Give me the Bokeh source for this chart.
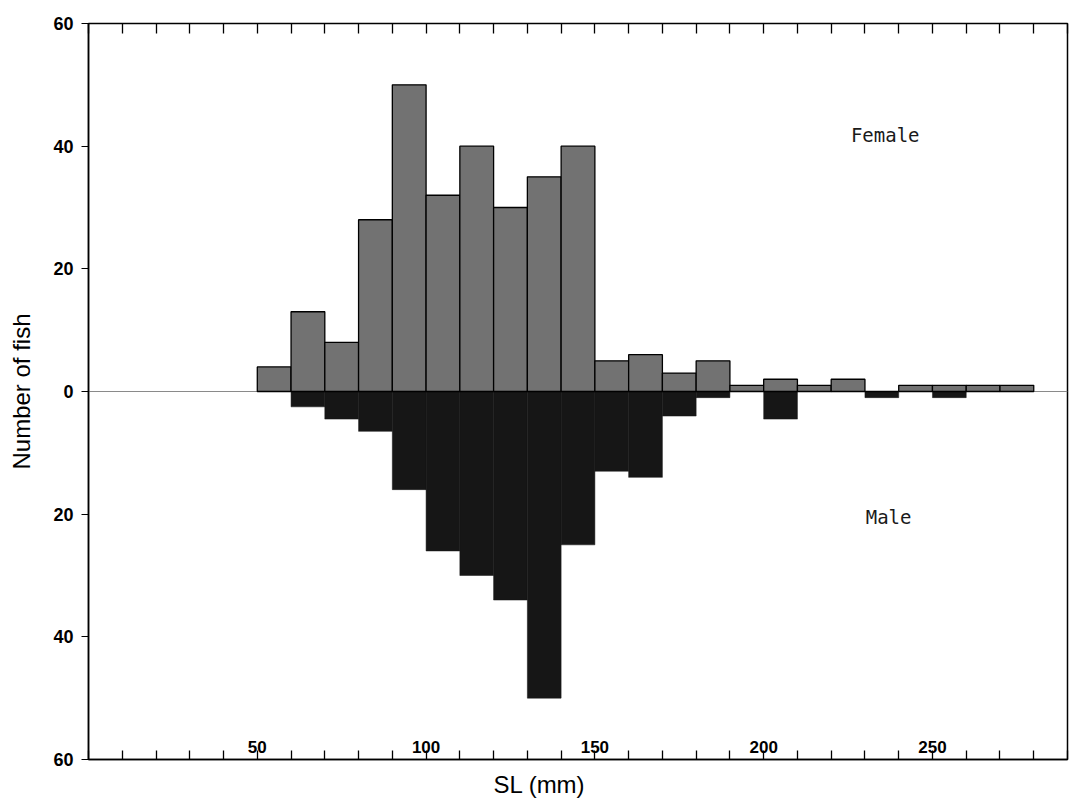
from bokeh.plotting import figure
from bokeh.models import (LinearAxis, SingleIntervalTicker, FixedTicker, Span,
                          ColumnDataSource, Title)
from bokeh.core.properties import value
from bokeh.embed import file_html
from bokeh.resources import INLINE

# ---- data (10 mm SL bins, value = bin start) ----
female_bins = [50, 60, 70, 80, 90, 100, 110, 120, 130, 140, 150, 160, 170, 180,
               190, 200, 210, 220, 230, 240, 250, 260, 270]
female_counts = [4, 13, 8, 28, 50, 32, 40, 30, 35, 40, 5, 6, 3, 5,
                 1, 2, 1, 2, 0, 1, 1, 1, 1]

male_bins = [60, 70, 80, 90, 100, 110, 120, 130, 140, 150, 160, 170, 180,
             190, 200, 210, 220, 230, 240, 250]
male_counts = [2.5, 4.5, 6.5, 16, 26, 30, 34, 50, 25, 13, 14, 4, 1,
               0, 4.5, 0, 0, 1, 0, 1]

bin_width = 10
x_tick_labels = [50, 100, 150, 200, 250]
y_tick_values = [-60, -40, -20, 0, 20, 40, 60]
y_tick_labels = ["60", "40", "20", "0", "20", "40", "60"]
series_labels = ["Female", "Male"]
x_title = "SL (mm)"
y_title = "Number of fish"

W, H = 1092, 809
p = figure(width=W, height=H, x_range=(0, 290), y_range=(-60, 60),
           output_backend="svg", toolbar_location=None,
           min_border_left=88, min_border_right=25, min_border_top=23,
           min_border_bottom=50, background_fill_color="white",
           border_fill_color="white")
p.xgrid.visible = False
p.ygrid.visible = False
p.outline_line_color = "black"
p.outline_line_width = 1.5

# zero line
zero = Span(location=0, dimension="width", line_color="#8a8a8a", line_width=1)
zero.level = "underlay"
p.add_layout(zero)

fsrc = ColumnDataSource(dict(
    left=female_bins,
    right=[b + bin_width for b in female_bins],
    top=female_counts,
    bottom=[0] * len(female_bins)))
msrc = ColumnDataSource(dict(
    left=male_bins,
    right=[b + bin_width for b in male_bins],
    top=[0] * len(male_bins),
    bottom=[-c for c in male_counts]))

p.quad(left="left", right="right", top="top", bottom="bottom", source=msrc,
       fill_color="#161616", line_color="#161616", line_width=0.5)
p.quad(left="left", right="right", top="top", bottom="bottom", source=fsrc,
       fill_color="#727272", line_color="black", line_width=1.3)

# bottom axis: inward ticks every 10, labels drawn inside the frame instead
xa = p.xaxis[0]
xa.ticker = SingleIntervalTicker(interval=10, num_minor_ticks=0)
xa.major_tick_in = 9
xa.major_tick_out = 0
xa.major_tick_line_width = 1.3
xa.major_label_text_font_size = "1px"
xa.major_label_text_color = None
xa.major_label_standoff = 0
xa.axis_line_width = 1.5

# top axis: inward ticks every 10
ta = LinearAxis(ticker=SingleIntervalTicker(interval=10, num_minor_ticks=0))
ta.major_tick_in = 10
ta.major_tick_out = 0
ta.major_tick_line_width = 1.3
ta.major_label_text_font_size = "1px"
ta.major_label_text_color = None
ta.axis_line_width = 1.2
ta.major_label_standoff = 0
p.add_layout(ta, "above")

# left axis
ya = p.yaxis[0]
ya.ticker = FixedTicker(ticks=y_tick_values)
ya.major_label_overrides = {v: s for v, s in zip(y_tick_values, y_tick_labels)}
ya.major_tick_in = 0
ya.major_tick_out = 7
ya.minor_tick_line_color = None
ya.major_label_standoff = 8
ya.major_label_text_font = "Liberation Sans"
ya.major_label_text_font_style = "bold"
ya.major_label_text_font_size = "18px"
ya.major_label_text_color = "black"
ya.axis_line_width = 1.5
ya.axis_label = y_title
ya.axis_label_text_font = "Liberation Sans"
ya.axis_label_text_font_size = "24px"
ya.axis_label_text_font_style = "normal"
ya.axis_label_text_color = "black"
ya.axis_label_standoff = 15

# x axis title (left of centre, as in the original)
p.add_layout(Title(text=x_title, align="left", offset=405, standoff=19,
                   text_font="Liberation Sans", text_font_size="24px",
                   text_font_style="normal", text_color="black"), "below")

# x tick labels inside the frame, just above the bottom axis
p.text(x=x_tick_labels, y=[p.y_range.start] * len(x_tick_labels),
       text=[str(v) for v in x_tick_labels], y_offset=-13,
       text_align="center", text_baseline="alphabetic",
       text_font=value("Liberation Sans"), text_font_style="bold",
       text_font_size="17px", text_color="black")

# series labels
p.text(x=[236, 237], y=[41.8, -20.4], text=series_labels,
       text_align="center", text_baseline="middle",
       text_font=value("DejaVu Sans Mono"), text_font_size="19px",
       text_color="#1a1a1a")

open("out.html", "w").write(file_html(p, INLINE))
